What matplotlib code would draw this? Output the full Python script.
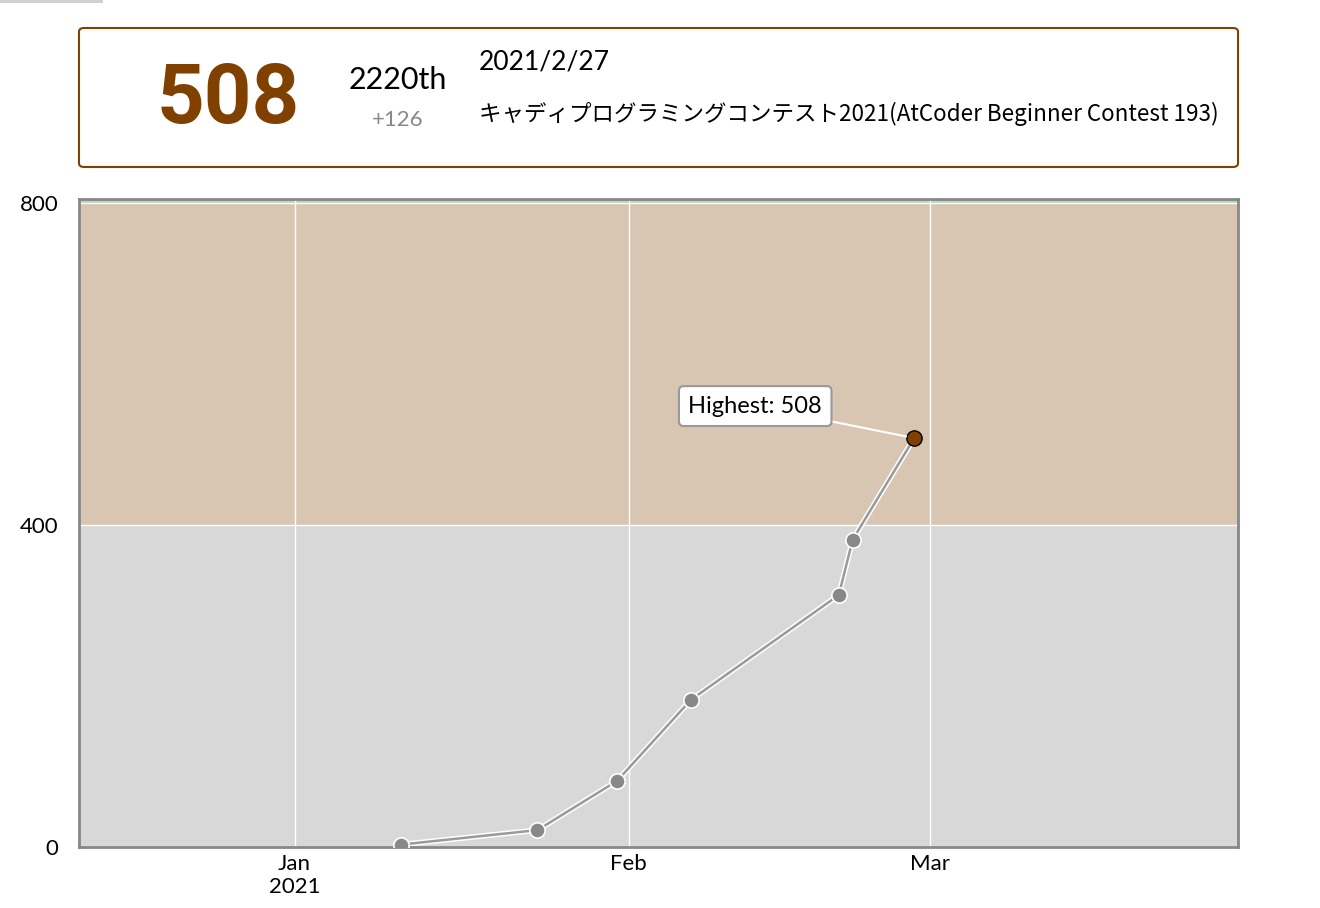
import matplotlib
matplotlib.use("Agg")
import matplotlib.pyplot as plt
from matplotlib.patches import FancyBboxPatch, Rectangle
from datetime import datetime

# rating history (contest end, rating)
dates = [datetime(2021, 1, 10, 21), datetime(2021, 1, 23, 13), datetime(2021, 1, 30, 22),
         datetime(2021, 2, 6, 19), datetime(2021, 2, 20, 12), datetime(2021, 2, 21, 19),
         datetime(2021, 2, 27, 12)]
ratings = [3, 21, 82, 183, 313, 382, 508]

# color bands: (low, high, color)
band_lows = [0, 400, 800]
band_highs = [400, 800, 1200]
band_colors = ["#d8d8d8", "#d8c5b2", "#b2d8b2"]

yticks = [0, 400, 800]
month_ticks = [datetime(2021, 1, 1), datetime(2021, 2, 1), datetime(2021, 3, 1)]
month_labels = ["Jan\n2021", "Feb", "Mar"]

rank = "2220th"
diff = "+126"
contest_date = "2021/2/27"
contest_name = "キャディプログラミングコンテスト2021(AtCoder Beginner Contest 193)"

W, H = 1320, 908
fig = plt.figure(figsize=(W / 100, H / 100), dpi=100)
fig.patch.set_facecolor("white")


def fx(px):
    return px / W


def fy(py):
    return 1 - py / H


# little grey tab top-left
fig.patches.append(Rectangle((fx(0), fy(3)), fx(103), 3 / H, transform=fig.transFigure,
                             fc="#d0d0d0", ec="none"))

# header box
hdr = FancyBboxPatch((fx(79), fy(167)), fx(1238 - 79), (167 - 28) / H,
                     boxstyle="round,pad=0,rounding_size=0.004",
                     transform=fig.transFigure, fc="white", ec="#804000", lw=1.5)
fig.patches.append(hdr)

fig.text(fx(228), fy(100), str(ratings[-1]), color="#804000", fontsize=60, fontweight="bold",
         family=["Roboto", "DejaVu Sans"], ha="center", va="center")
fig.text(fx(398), fy(80), rank, fontsize=22, family=["Lato", "DejaVu Sans"],
         ha="center", va="center", color="black")
fig.text(fx(398), fy(120), diff, fontsize=16, family=["Lato", "DejaVu Sans"],
         ha="center", va="center", color="#888888")
fig.text(fx(479), fy(62), contest_date, fontsize=19, family=["Lato", "DejaVu Sans"],
         ha="left", va="center", color="black")
fig.text(fx(479), fy(114), contest_name, fontsize=16.2,
         family=["Noto Sans CJK JP", "DejaVu Sans"],
         ha="left", va="center", color="black")

# chart
ax = fig.add_axes([fx(79), fy(847), fx(1238 - 79), (847 - 199) / H])
ax.set_xlim(datetime(2020, 12, 12), datetime(2021, 3, 29, 13))
ax.set_ylim(0, 805)

for lo, hi, c in zip(band_lows, band_highs, band_colors):
    ax.axhspan(lo, hi, color=c, lw=0, zorder=0)

ax.set_yticks(yticks)
ax.set_yticklabels([str(t) for t in yticks])
ax.set_xticks(month_ticks)
ax.set_xticklabels(month_labels)
ax.grid(True, color="white", lw=1, zorder=1)
ax.tick_params(length=0, labelsize=16, pad=5)
ax.tick_params(axis="y", pad=15)
for lab in ax.get_xticklabels() + ax.get_yticklabels():
    lab.set_family(["Lato", "DejaVu Sans"])
for s in ax.spines.values():
    s.set_color("#888888")
    s.set_linewidth(2)

ax.plot(dates, ratings, color="white", lw=4, zorder=2, solid_capstyle="round")
ax.plot(dates, ratings, color="#9a9a9a", lw=1.8, zorder=3)
ax.plot(dates[:-1], ratings[:-1], "o", ms=11, mfc="#888888", mec="white", mew=1.2, zorder=4)
ax.plot(dates[-1], ratings[-1], "o", ms=11, mfc="#804000", mec="black", mew=1, zorder=5)

ax.annotate("Highest: %d" % max(ratings), xy=(dates[-1], ratings[-1]),
            xytext=(-159, 32), textcoords="offset pixels", ha="center", va="center",
            fontsize=17, family=["Lato", "DejaVu Sans"], zorder=6,
            bbox=dict(boxstyle="round,pad=0.4,rounding_size=0.2", fc="white", ec="#999999", lw=1.5),
            arrowprops=dict(arrowstyle="-", color="white", lw=1.5, shrinkA=0, shrinkB=6))

fig.savefig("out.png", dpi=100)
